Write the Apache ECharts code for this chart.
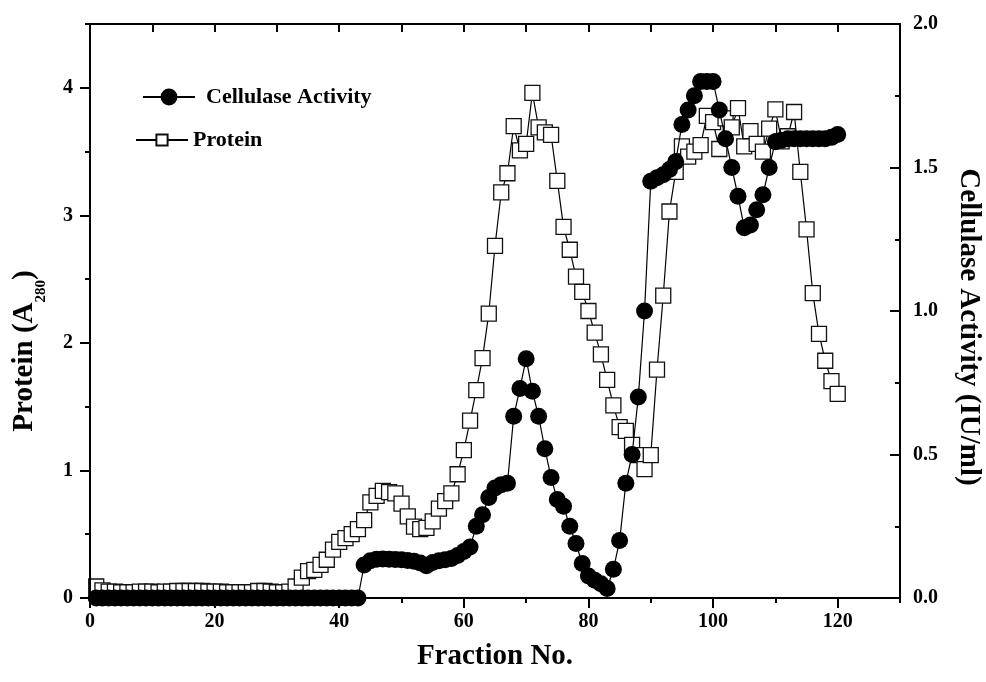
<!DOCTYPE html>
<html>
<head>
<meta charset="utf-8">
<title>Fraction profile</title>
<script src="https://cdn.jsdelivr.net/npm/echarts@6/dist/echarts.min.js"></script>
<style>
  html, body { margin: 0; padding: 0; background: #fff; }
  #chart { width: 986px; height: 682px; }
</style>
</head>
<body>
<div id="chart"></div>
<script>
// fraction numbers (x)
const fractions = [
  1, 2, 3, 4, 5, 6, 7, 8, 9, 10, 11, 12, 13, 14, 15, 16, 17, 18, 19, 20,
  21, 22, 23, 24, 25, 26, 27, 28, 29, 30, 31, 32, 33, 34, 35, 36, 37, 38, 39, 40,
  41, 42, 43, 44, 45, 46, 47, 48, 49, 50, 51, 52, 53, 54, 55, 56, 57, 58, 59, 60,
  61, 62, 63, 64, 65, 66, 67, 68, 69, 70, 71, 72, 73, 74, 75, 76, 77, 78, 79, 80,
  81, 82, 83, 84, 85, 86, 87, 88, 89, 90, 91, 92, 93, 94, 95, 96, 97, 98, 99, 100,
  101, 102, 103, 104, 105, 106, 107, 108, 109, 110, 111, 112, 113, 114, 115, 116, 117, 118, 119, 120
];

// Protein (A280), left axis
const protein = [
  0.09, 0.06, 0.05, 0.05, 0.045, 0.045, 0.045, 0.05, 0.05, 0.05,
  0.045, 0.05, 0.05, 0.055, 0.055, 0.055, 0.055, 0.055, 0.05, 0.05,
  0.05, 0.045, 0.045, 0.045, 0.045, 0.045, 0.055, 0.055, 0.05, 0.045,
  0.045, 0.05, 0.09, 0.16, 0.21, 0.22, 0.26, 0.30, 0.38, 0.44,
  0.47, 0.50, 0.54, 0.61, 0.75, 0.80, 0.84, 0.83, 0.82, 0.74,
  0.64, 0.56, 0.54, 0.55, 0.60, 0.70, 0.76, 0.82, 0.97, 1.16,
  1.39, 1.63, 1.88, 2.23, 2.76, 3.18, 3.33, 3.70, 3.51, 3.56,
  3.96, 3.69, 3.65, 3.63, 3.27, 2.91, 2.73, 2.52, 2.40, 2.25,
  2.08, 1.91, 1.71, 1.51, 1.34, 1.31, 1.20, 1.12, 1.01, 1.12,
  1.79, 2.37, 3.03, 3.34, 3.54, 3.46, 3.50, 3.55, 3.78, 3.73,
  3.52, 3.76, 3.69, 3.84, 3.54, 3.66, 3.56, 3.50, 3.68, 3.83,
  3.58, 3.62, 3.81, 3.34, 2.89, 2.39, 2.07, 1.86, 1.70, 1.60
];

// Cellulase activity (IU/ml), right axis
const activity = [
  0, 0, 0, 0, 0, 0, 0, 0, 0, 0,
  0, 0, 0, 0, 0, 0, 0, 0, 0, 0,
  0, 0, 0, 0, 0, 0, 0, 0, 0, 0,
  0, 0, 0, 0, 0, 0, 0, 0, 0, 0,
  0, 0, 0, 0.115, 0.13, 0.135, 0.136, 0.135, 0.134, 0.133,
  0.131, 0.128, 0.122, 0.112, 0.124, 0.13, 0.133, 0.138, 0.148, 0.162,
  0.178, 0.25, 0.29, 0.35, 0.383, 0.395, 0.40, 0.633, 0.73, 0.834,
  0.72, 0.633, 0.52, 0.42, 0.343, 0.32, 0.25, 0.19, 0.12, 0.077,
  0.062, 0.05, 0.033, 0.10, 0.20, 0.40, 0.50, 0.70, 1.0, 1.452,
  1.464, 1.475, 1.493, 1.52, 1.65, 1.70, 1.75, 1.80, 1.80, 1.80,
  1.70, 1.60, 1.50, 1.40, 1.29, 1.30, 1.353, 1.405, 1.50, 1.59,
  1.595, 1.60, 1.60, 1.60, 1.60, 1.60, 1.60, 1.60, 1.605, 1.615
];

// tick values
const xMajorTicks = [0, 20, 40, 60, 80, 100, 120];
const xMinorTicks = [10, 30, 50, 70, 90, 110, 130];
const yLeftMajorTicks = [0, 1, 2, 3, 4];
const yLeftMinorTicks = [0.5, 1.5, 2.5, 3.5, 4.5];

const FONT = '"Liberation Serif", "Times New Roman", serif';
const INK = '#000';

function textWidth(str, size) {
  const ctx = document.createElement('canvas').getContext('2d');
  ctx.font = 'bold ' + size + 'px ' + FONT;
  return ctx.measureText(str).width;
}

const nameSize = 29;
const subSize = 15;
const w1 = textWidth('Protein (A', nameSize);
const w2 = textWidth('280', subSize);
const w3 = textWidth(')', nameSize);
const wAll = w1 + w2 + w3;

const labelStyle = { color: INK, fontFamily: FONT, fontWeight: 'bold', fontSize: 20 };
const lineSt = { color: INK, width: 2 };

function nameText(text, x, y, size) {
  return {
    type: 'text', x: x, y: y,
    style: {
      text: text, fill: INK,
      font: 'bold ' + size + 'px ' + FONT,
      align: 'left', verticalAlign: 'middle',
      textAlign: 'left', textVerticalAlign: 'middle'
    }
  };
}

const chart = echarts.init(document.getElementById('chart'));

const option = {
  backgroundColor: '#fff',
  animation: false,
  grid: { left: 90, right: 86, top: 24, bottom: 84 },
  legend: [
    {
      data: ['Cellulase Activity'],
      left: 142, top: 86, padding: 0,
      itemWidth: 52, itemHeight: 21,
      selectedMode: false,
      lineStyle: { width: 2 },
      textStyle: { color: INK, fontFamily: FONT, fontWeight: 'bold', fontSize: 22, padding: [0, 0, 0, 6] }
    },
    {
      data: ['Protein'],
      left: 135, top: 129, padding: 0,
      itemWidth: 52, itemHeight: 14,
      selectedMode: false,
      lineStyle: { width: 2 },
      textStyle: { color: INK, fontFamily: FONT, fontWeight: 'bold', fontSize: 22 }
    }
  ],
  xAxis: [
    {
      type: 'value', position: 'bottom', min: 0, max: 130, z: 4,
      axisLine: { show: true, onZero: false, lineStyle: lineSt },
      axisTick: { show: true, length: 10, customValues: xMajorTicks, lineStyle: lineSt },
      axisLabel: Object.assign({ margin: 14, customValues: xMajorTicks }, labelStyle),
      splitLine: { show: false }
    },
    {
      type: 'value', position: 'top', min: 0, max: 130, interval: 10, z: 4,
      axisLine: { show: true, onZero: false, lineStyle: lineSt },
      axisTick: { show: true, inside: true, length: 8, lineStyle: lineSt },
      axisLabel: { show: false },
      splitLine: { show: false }
    },
    {
      type: 'value', position: 'bottom', min: 0, max: 130, z: 4,
      axisLine: { show: false, onZero: false },
      axisTick: { show: true, length: 5, customValues: xMinorTicks, lineStyle: lineSt },
      axisLabel: { show: false },
      splitLine: { show: false }
    }
  ],
  yAxis: [
    {
      type: 'value', position: 'left', min: 0, max: 4.5, z: 4,
      axisLine: { show: true, onZero: false, lineStyle: lineSt },
      axisTick: { show: true, length: 10, customValues: yLeftMajorTicks, lineStyle: lineSt },
      axisLabel: Object.assign({ margin: 17, customValues: yLeftMajorTicks }, labelStyle),
      splitLine: { show: false }
    },
    {
      type: 'value', position: 'right', min: 0, max: 2, interval: 0.5, z: 4,
      axisLine: { show: true, onZero: false, lineStyle: lineSt },
      axisTick: { show: true, inside: true, length: 10, lineStyle: lineSt },
      minorTick: { show: true, splitNumber: 2, length: 5, lineStyle: lineSt },
      axisLabel: Object.assign({ margin: 13, formatter: (v) => v.toFixed(1) }, labelStyle),
      splitLine: { show: false },
      minorSplitLine: { show: false }
    },
    {
      type: 'value', position: 'left', min: 0, max: 4.5, z: 4,
      axisLine: { show: false, onZero: false },
      axisTick: { show: true, length: 5, customValues: yLeftMinorTicks, lineStyle: lineSt },
      axisLabel: { show: false },
      splitLine: { show: false }
    }
  ],
  series: [
    {
      name: 'Protein',
      type: 'line',
      xAxisIndex: 0, yAxisIndex: 0,
      data: fractions.map((f, i) => [f, protein[i]]),
      symbol: 'rect', symbolSize: 15,
      itemStyle: { color: '#fff', borderColor: '#111', borderWidth: 1.3 },
      lineStyle: { color: INK, width: 1.2 },
      emphasis: { disabled: true },
      z: 2
    },
    {
      name: 'Cellulase Activity',
      type: 'line',
      xAxisIndex: 0, yAxisIndex: 1,
      data: fractions.map((f, i) => [f, activity[i]]),
      symbol: 'circle', symbolSize: 17,
      itemStyle: { color: INK, borderWidth: 0 },
      lineStyle: { color: INK, width: 1.2 },
      emphasis: { disabled: true },
      z: 3
    }
  ],
  graphic: [
    // hide marker parts that fall below the bottom axis
    { type: 'rect', silent: true, z: 3, shape: { x: 86, y: 599.5, width: 816, height: 11 }, style: { fill: '#fff' } },
    {
      type: 'text', x: 495, y: 657,
      style: {
        text: 'Fraction No.', fill: INK, font: 'bold ' + nameSize + 'px ' + FONT,
        align: 'center', verticalAlign: 'middle', textAlign: 'center', textVerticalAlign: 'middle'
      }
    },
    {
      type: 'group', x: 25, y: 351, rotation: Math.PI / 2,
      children: [
        nameText('Protein (A', -wAll / 2, 0, nameSize),
        nameText('280', -wAll / 2 + w1, 16, subSize),
        nameText(')', -wAll / 2 + w1 + w2, 0, nameSize)
      ]
    },
    {
      type: 'text', x: 968, y: 327, rotation: -Math.PI / 2,
      style: {
        text: 'Cellulase Activity (IU/ml)', fill: INK, font: 'bold ' + nameSize + 'px ' + FONT,
        align: 'center', verticalAlign: 'middle', textAlign: 'center', textVerticalAlign: 'middle'
      }
    }
  ]
};

chart.setOption(option);
</script>
</body>
</html>
